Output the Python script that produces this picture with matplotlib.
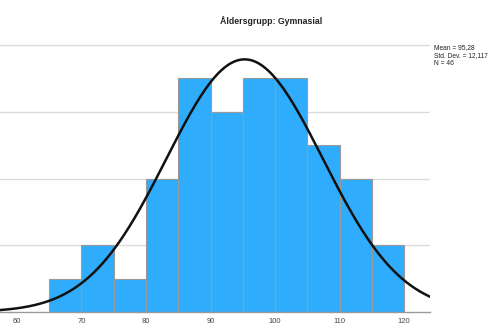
import numpy as np
import matplotlib.pyplot as plt

plt.rcParams['font.family'] = ['Liberation Sans', 'DejaVu Sans']

# histogram of ages, 5-year bins
bin_edges = [65, 70, 75, 80, 85, 90, 95, 100, 105, 110, 115, 120]
counts = [1, 2, 1, 4, 7, 6, 7, 7, 5, 4, 2]
mean_val = 95.28
std_val = 12.117
n_obs = 46
x_ticks = [60, 70, 80, 90, 100, 110, 120]
grid_levels = [2, 4, 6, 8]

fig = plt.figure(figsize=(5.03, 3.27), dpi=100)
ax = fig.add_axes([0.0, 0.046, 0.855, 0.862])

widths = np.diff(bin_edges)
ax.bar(bin_edges[:-1], counts, width=widths, align='edge',
       color='#2fadfc', edgecolor='#9a9a9a', linewidth=0.8, zorder=2)

# fitted normal curve scaled to counts
xs = np.linspace(57.4, 124, 400)
bw = widths[0]
ys = n_obs * bw / (std_val * np.sqrt(2 * np.pi)) * np.exp(-0.5 * ((xs - mean_val) / std_val) ** 2)
ax.plot(xs, ys, color='#111111', linewidth=1.8, zorder=3)

ax.set_xlim(57.4, 124)
ax.set_ylim(0, 8.45)
for g in grid_levels:
    ax.axhline(g, color='#dcdcdc', linewidth=1.0, zorder=1)

ax.set_xticks(x_ticks)
ax.set_xticklabels([str(t) for t in x_ticks], fontsize=5.5, color='#444444')
ax.tick_params(axis='x', length=0, pad=4)
ax.set_yticks([])
for side in ['top', 'right', 'left']:
    ax.spines[side].set_visible(False)
ax.spines['bottom'].set_color('#9a9a9a')
ax.spines['bottom'].set_linewidth(1.0)

fig.text(0.539, 0.935, 'Åldersgrupp: Gymnasial', ha='center', va='center',
         fontsize=6.3, fontweight='bold', color='#222222')

stats_txt = 'Mean = 95,28\nStd. Dev. = 12,117\nN = 46'
fig.text(0.862, 0.865, stats_txt, ha='left', va='top', fontsize=4.8,
         color='#222222', linespacing=1.15)

fig.savefig('out.png', dpi=100)
